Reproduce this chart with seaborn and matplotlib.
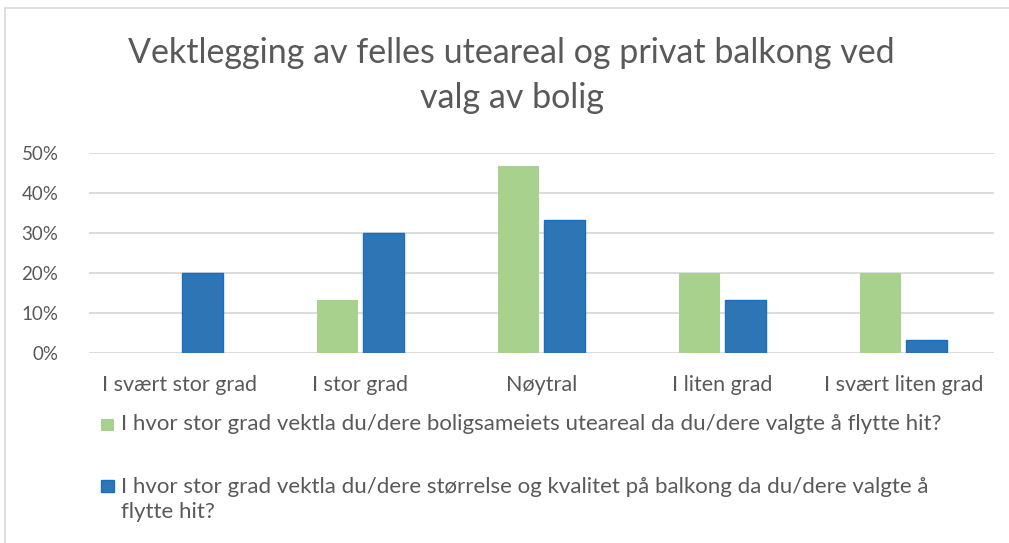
import matplotlib
matplotlib.use("Agg")
import matplotlib.pyplot as plt
import seaborn as sns
import pandas as pd
from matplotlib.ticker import FuncFormatter, MultipleLocator
from matplotlib.patches import Rectangle

categories = ["I svært stor grad", "I stor grad", "Nøytral", "I liten grad", "I svært liten grad"]
series_names = [
    "I hvor stor grad vektla du/dere boligsameiets uteareal da du/dere valgte å flytte hit?",
    "I hvor stor grad vektla du/dere størrelse og kvalitet på balkong da du/dere valgte å\nflytte hit?",
]
uteareal = [0.0, 13.3, 46.7, 20.0, 20.0]
balkong = [20.0, 30.0, 33.3, 13.3, 3.3]
colors = ["#a9d18e", "#2e75b6"]
title_lines = ["Vektlegging av felles uteareal og privat balkong ved", "valg av bolig"]

df = pd.DataFrame({
    "kategori": categories * 2,
    "serie": [series_names[0]] * 5 + [series_names[1]] * 5,
    "verdi": uteareal + balkong,
})

sns.set_theme(style="white")
plt.rcParams["font.family"] = ["Lato", "DejaVu Sans"]
txt = "#595959"
W, H = 1009, 543

fig = plt.figure(figsize=(10.09, 5.43), dpi=100)
ax = fig.add_axes([89 / W, 1 - 353 / H, 905 / W, 200 / H])

sns.barplot(data=df, x="kategori", y="verdi", hue="serie", palette=colors,
            width=0.508, gap=0.11, ax=ax, legend=False, saturation=1)
for p in ax.containers[1]:
    p.set_edgecolor("#1a6fc0")
    p.set_linewidth(1.0)
for p in ax.containers[0]:
    p.set_linewidth(0)

ax.set_ylim(0, 50)
ax.set_xlim(-0.5, 4.5)
ax.yaxis.set_major_locator(MultipleLocator(10))
ax.yaxis.set_major_formatter(FuncFormatter(lambda v, _: f"{int(v)}%"))
ax.grid(axis="y", color="#d9d9d9", linewidth=1.3)
ax.set_axisbelow(True)
for s in ax.spines.values():
    s.set_visible(False)
ax.set_xlabel("")
ax.set_ylabel("")
ax.tick_params(axis="both", length=0, labelcolor=txt)
ax.tick_params(axis="y", labelsize=13.5, pad=22)
ax.tick_params(axis="x", labelsize=15.5, pad=16)

# title, one text per line
for i, line in enumerate(title_lines):
    fig.text(0.507, 1 - (63 + 45 * i) / H, line, ha="center", va="baseline",
             fontsize=24.5, color=txt)

# legend
baselines = [[430], [493, 518]]
squares = [418, 479]
for k, name in enumerate(series_names):
    fig.patches.append(Rectangle((101 / W, 1 - (squares[k] + 13) / H), 13 / W, 12 / H,
                                 transform=fig.transFigure, facecolor=colors[k],
                                 edgecolor="#1a6fc0" if k == 1 else "none", linewidth=1.0))
    for j, part in enumerate(name.split("\n")):
        fig.text(121 / W, 1 - baselines[k][j] / H, part, ha="left", va="baseline",
                 fontsize=16, color=txt)

# outer chart border
fig.patches.append(Rectangle((5 / W, -0.02), 1.2, 1 - 8 / H + 0.02, transform=fig.transFigure,
                             fill=False, edgecolor="#d9d9d9", linewidth=1.2))

fig.savefig("out.png", dpi=100)
